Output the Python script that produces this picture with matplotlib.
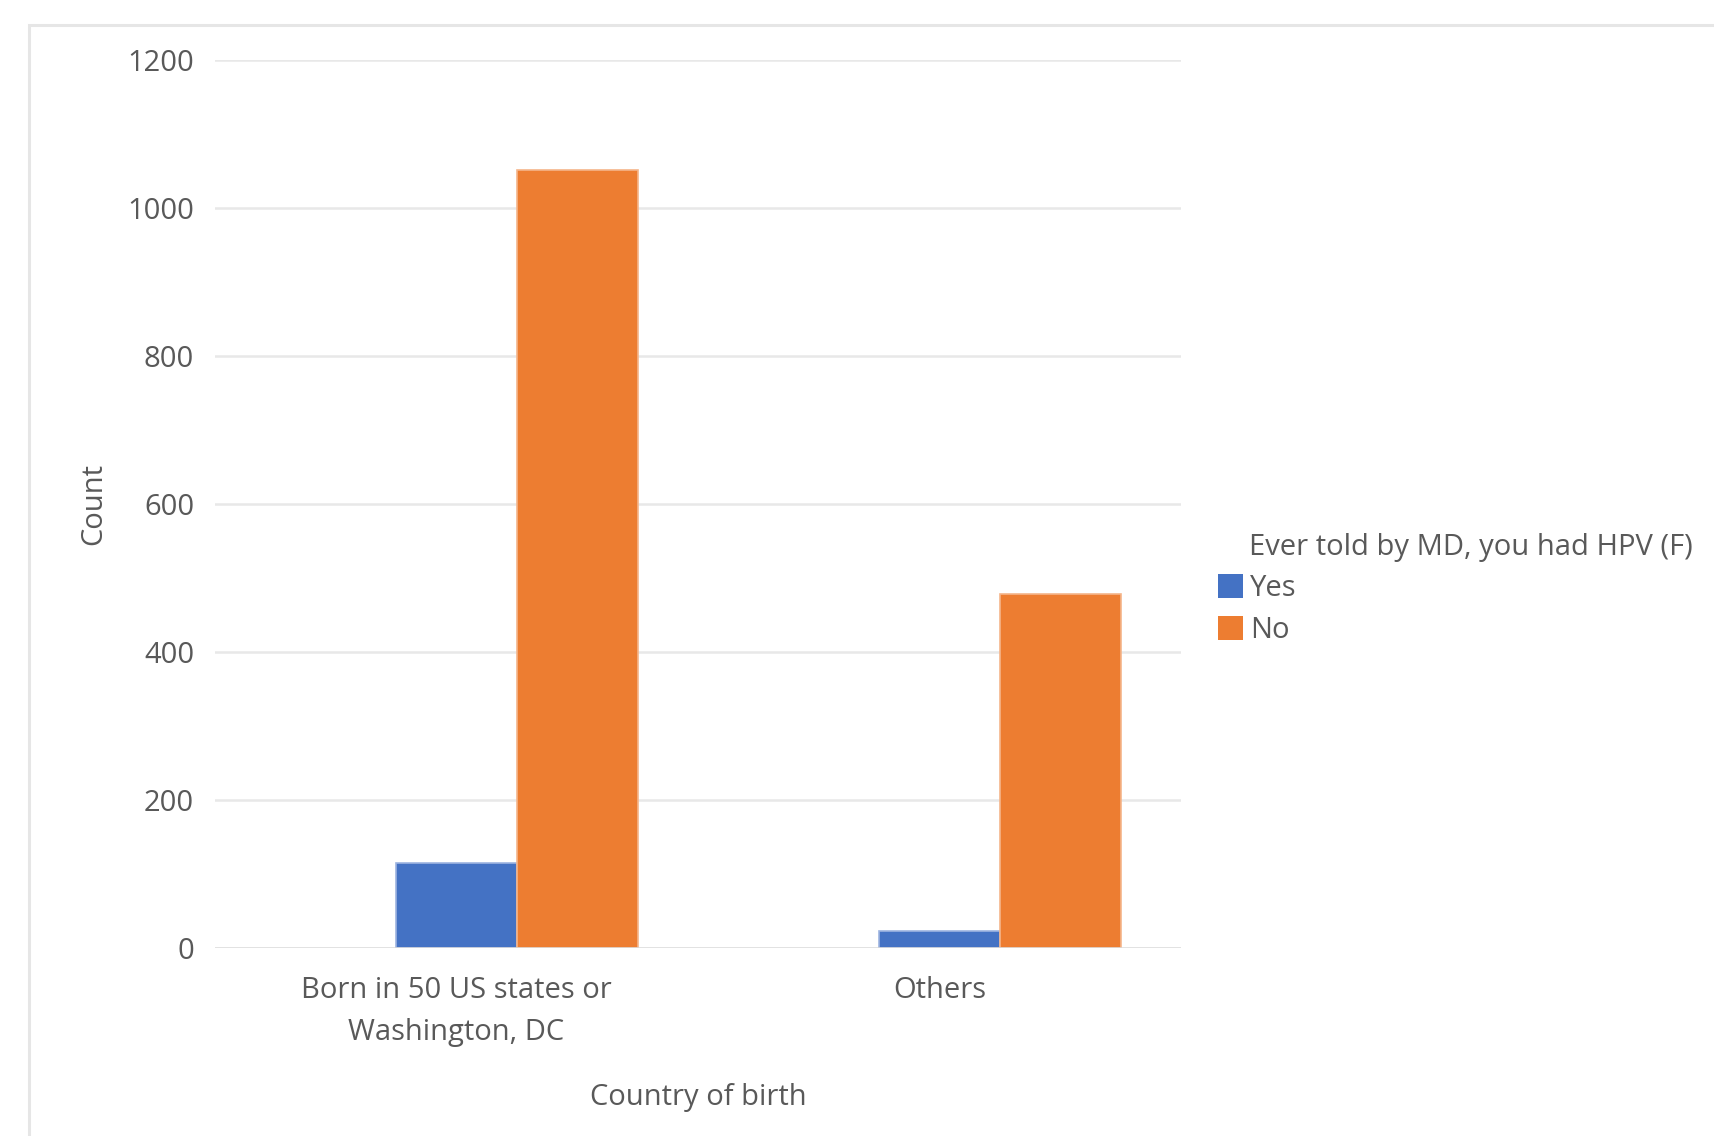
import numpy as np
import matplotlib
matplotlib.use('Agg')
import matplotlib.pyplot as plt
from matplotlib.patches import Rectangle, Patch

# ---- data ----
categories = ['Born in 50 US states or\nWashington, DC', 'Others']
series_names = ['Yes', 'No']
yes_counts = [115, 23]
no_counts = [1052, 478]
y_ticks = [0, 200, 400, 600, 800, 1000, 1200]
legend_title = 'Ever told by MD, you had HPV (F)'

BLUE = '#4472C4'
ORANGE = '#ED7D31'
TEXT = '#595959'
FS = 21

plt.rcParams['font.family'] = ['Open Sans', 'DejaVu Sans']

W, H = 1714, 1136
fig = plt.figure(figsize=(W / 100, H / 100), dpi=100)

# light chart-area border (runs off the right and bottom edges)
fig.patches.append(Rectangle((29 / W, -0.1), 1.2, 1 - 25 / H + 0.1,
                             transform=fig.transFigure, fill=False,
                             edgecolor='#e6e6e6', linewidth=2.2))

# plot area in pixels: x 215..1181, y 60..948
ax = fig.add_axes([215 / W, (H - 948) / H, 966 / W, 888 / H])

x = np.arange(len(categories))
width = 0.25
ax.bar(x, yes_counts, width, color=BLUE,
       edgecolor='#9db4e0', linewidth=1.2, zorder=3, label=series_names[0])
ax.bar(x + width, no_counts, width, color=ORANGE,
       edgecolor='#f5b58a', linewidth=1.2, zorder=3, label=series_names[1])

ax.set_xlim(-0.5, len(categories) - 0.5)
ax.set_ylim(0, 1200)
ax.set_yticks(y_ticks)
ax.set_yticklabels([str(t) for t in y_ticks])
ax.set_xticks(x)
ax.set_xticklabels(categories, linespacing=1.6)

for t in y_ticks[1:]:
    ax.axhline(t, color='#e8e8e8', linewidth=1.8, zorder=1)
ax.axhline(0, color='#d9d9d9', linewidth=1.8, zorder=4)

for s in ax.spines.values():
    s.set_visible(False)
ax.tick_params(axis='both', length=0, labelsize=FS, colors=TEXT)
ax.tick_params(axis='y', pad=15)
ax.tick_params(axis='x', pad=20)

ax.set_xlabel('Country of birth', fontsize=FS, color=TEXT, labelpad=26)
ax.set_ylabel('Count', fontsize=FS, color=TEXT, labelpad=14)

# legend: title as separate text so it lines up with the entry labels
fig.text(1249 / W, 1 - 548 / H, legend_title, fontsize=FS, color=TEXT,
         ha='left', va='center')
handles = [Patch(facecolor=BLUE, edgecolor='none'),
           Patch(facecolor=ORANGE, edgecolor='none')]
fig.legend(handles, series_names, loc='upper left',
           bbox_to_anchor=(1218 / W, 1 - 574 / H), frameon=False,
           fontsize=FS, labelcolor=TEXT, handlelength=0.85,
           handleheight=0.85, handletextpad=0.25, labelspacing=0.45,
           borderpad=0, borderaxespad=0)

fig.savefig('out.png', dpi=100)
